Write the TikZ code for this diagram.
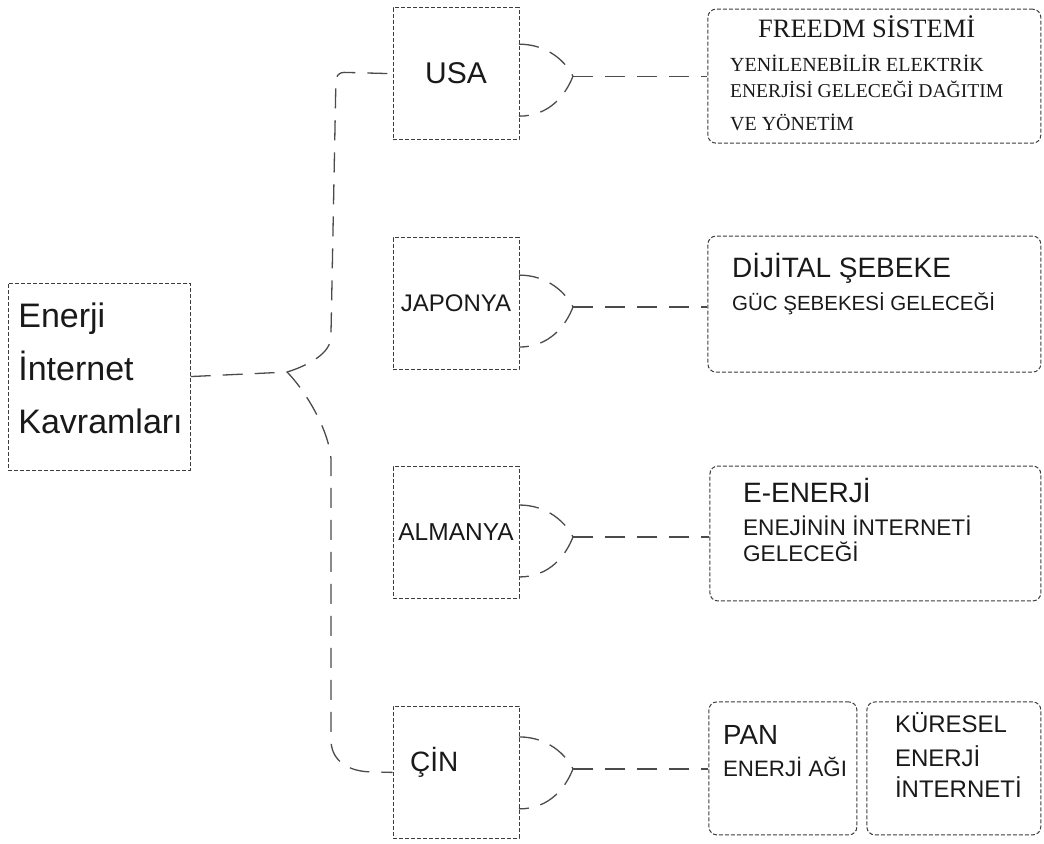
\documentclass[tikz,border=0pt]{standalone}
\usepackage{fontspec}
\setmainfont{Liberation Sans}
\newfontfamily\timesface{Liberation Serif}
\usepackage{tikz}
\definecolor{ink}{RGB}{25, 25, 25}
\definecolor{rim}{RGB}{60, 60, 60}
\definecolor{cable}{RGB}{75, 75, 75}
\newcommand{\pxsize}[1]{\fontsize{#1}{#1}\selectfont}

\begin{document}
\begin{tikzpicture}[x=1pt, y=-1pt,
    dashbox/.style={draw=rim, line width=1, dash pattern=on 4pt off 2pt, inner sep=0, text=ink},
    cbox/.style={dashbox, minimum width=126, minimum height=132},
    rbox/.style={dashbox, rounded corners=8},
    wire/.style={draw=cable, line width=1.3, dash pattern=on 20pt off 12pt},
    txt/.style={anchor=base west, inner sep=0, text=ink}]
  \draw[white] (0, 0) rectangle (1044, 843);

  % left box
  \node[dashbox, minimum width=182, minimum height=187] (concept) at (99, 376.5) {};
  \node[txt, font=\pxsize{34}] (concept1) at (18, 327) {Enerji};
  \node[txt, font=\pxsize{34}] (concept2) at (18, 380) {İnternet};
  \node[txt, font=\pxsize{34}] (concept3) at (18, 433) {Kavramları};

  % countries
  \node[cbox, font=\pxsize{30}] (usa) at (456, 73.5) {USA};
  \node[cbox, font=\pxsize{24}] (japonya) at (456, 303.5) {JAPONYA};
  \node[cbox, font=\pxsize{24.5}] (almanya) at (456, 532.5) {ALMANYA};
  \node[cbox] (cin) at (456, 772.5) {};
  \node[txt, font=\pxsize{28}] (cintext) at (410, 772) {ÇİN};

  % right boxes
  \node[rbox, minimum width=333, minimum height=134] (freedm) at (874.5, 76) {};
  \node[rbox, minimum width=333, minimum height=136] (dijital) at (874.5, 304) {};
  \node[rbox, minimum width=331, minimum height=135] (eenerji) at (875.5, 533.5) {};
  \node[rbox, minimum width=148, minimum height=133] (pan) at (783, 768.5) {};
  \node[rbox, minimum width=174, minimum height=133] (kuresel) at (954, 768.5) {};

  \node[txt, font=\timesface\pxsize{26.5}] (freedm1) at (758, 37) {FREEDM SİSTEMİ};
  \node[txt, font=\timesface\pxsize{20}] (freedm2) at (730, 71) {YENİLENEBİLİR ELEKTRİK};
  \node[txt, font=\timesface\pxsize{19.6}] (freedm3) at (730, 97) {ENERJİSİ GELECEĞİ DAĞITIM};
  \node[txt, font=\timesface\pxsize{20}] (freedm4) at (730, 130) {VE YÖNETİM};

  \node[txt, font=\pxsize{28}] (dijital1) at (732, 277) {DİJİTAL ŞEBEKE};
  \node[txt, font=\pxsize{20.5}] (dijital2) at (732, 310) {GÜC ŞEBEKESİ GELECEĞİ};

  \node[txt, font=\pxsize{28}] (eenerji1) at (743, 502) {E-ENERJİ};
  \node[txt, font=\pxsize{22.6}] (eenerji2) at (743, 535) {ENEJİNİN İNTERNETİ};
  \node[txt, font=\pxsize{22.6}] (eenerji3) at (743, 562) {GELECEĞİ};

  \node[txt, font=\pxsize{27.7}] (pan1) at (723, 745) {PAN};
  \node[txt, font=\pxsize{22.3}] (pan2) at (723, 777) {ENERJİ AĞI};

  \node[txt, font=\pxsize{24}] (kuresel1) at (895, 733) {KÜRESEL};
  \node[txt, font=\pxsize{24}] (kuresel2) at (895, 767) {ENERJİ};
  \node[txt, font=\pxsize{24}] (kuresel3) at (895, 798) {İNTERNETİ};

  % trunk
  \coordinate (fork) at (287, 372);
  \draw[wire] (concept.east) -- (fork);
  \draw[wire, rounded corners=8] (fork) .. controls (312, 364) and (330, 352) .. (331, 330) -- (336, 72) -- (usa.west);
  \draw[wire] (fork) .. controls (303, 388) and (329, 428) .. (331, 460) -- (331, 742) .. controls (332, 762) and (350, 772) .. (372, 772) -- (cin.west);

  % brackets
  \foreach \c/\r/\k in {usa/freedm/76, japonya/dijital/307, almanya/eenerji/537, cin/pan/769} {
    \coordinate (\c cusp) at (573, \k);
    \draw[wire] (519, \k-32) .. controls (548, \k-32) and (566, \k-14) .. (\c cusp) .. controls (566, \k+18) and (550, \k+40) .. (519, \k+40);
    \draw[wire] (\c cusp) -- (\r.west |- \c cusp);
  }
\end{tikzpicture}
\end{document}
